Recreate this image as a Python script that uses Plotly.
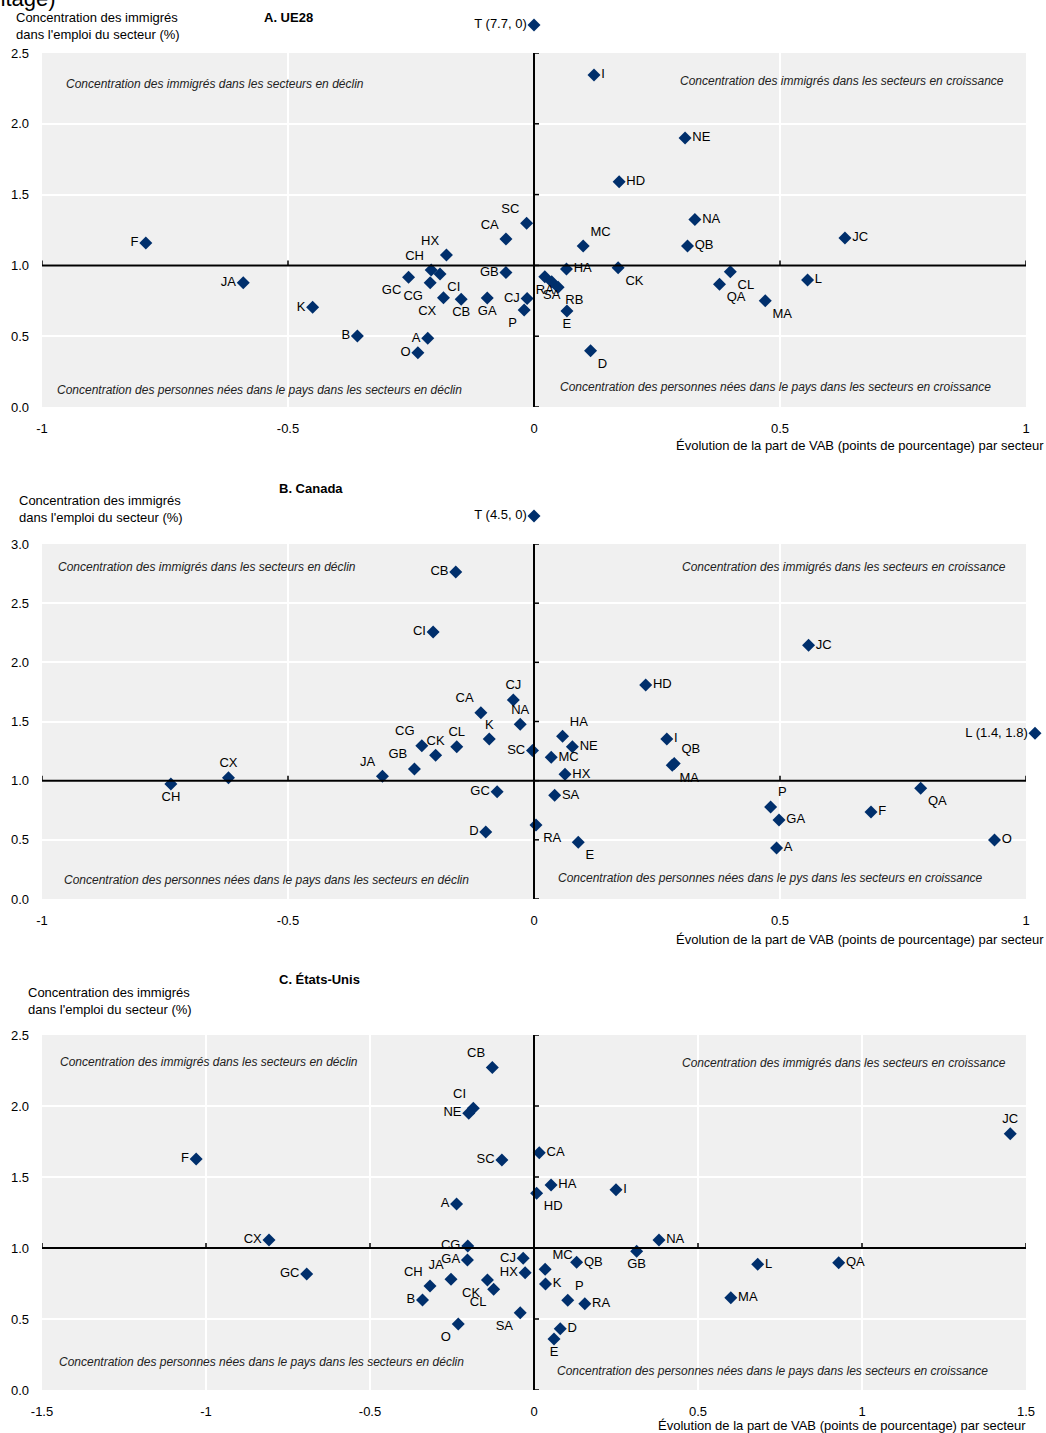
import plotly.graph_objects as go

W, H = 1046, 1433

# ---------------- data ----------------
# Each sector: change in gross value added share (pp) and immigrant concentration (%)
eu_codes = ["T", "I", "NE", "HD", "NA", "QB", "MC", "JC", "HA", "CK", "CL", "QA", "MA", "L",
            "E", "D", "RA", "SA", "RB", "SC", "CA", "HX", "CH", "CI", "GC", "CG", "GB", "CJ",
            "P", "GA", "CB", "CX", "JA", "K", "B", "A", "O", "F"]
eu_vab = [0.0, 0.122, 0.307, 0.173, 0.327, 0.312, 0.100, 0.632, 0.066, 0.171, 0.399, 0.377,
          0.470, 0.556, 0.067, 0.115, 0.022, 0.036, 0.049, -0.015, -0.057, -0.178, -0.209,
          -0.191, -0.255, -0.211, -0.057, -0.014, -0.020, -0.095, -0.148, -0.184, -0.591,
          -0.450, -0.359, -0.216, -0.236, -0.789]
eu_conc = [7.7, 2.345, 1.90, 1.59, 1.325, 1.137, 1.137, 1.193, 0.975, 0.984, 0.956, 0.866,
           0.751, 0.897, 0.678, 0.398, 0.920, 0.885, 0.845, 1.297, 1.186, 1.073, 0.967, 0.939,
           0.916, 0.878, 0.949, 0.767, 0.685, 0.770, 0.761, 0.772, 0.878, 0.704, 0.501, 0.485,
           0.384, 1.158]

ca_codes = ["T", "CB", "CI", "JC", "HD", "I", "QB", "MA", "HA", "NE", "MC", "HX", "SA", "RA",
            "E", "P", "GA", "A", "F", "QA", "O", "L", "CH", "CX", "JA", "GB", "CG", "CK", "CL",
            "CA", "K", "CJ", "NA", "SC", "GC", "D"]
ca_vab = [0.0, -0.159, -0.205, 0.558, 0.227, 0.270, 0.285, 0.281, 0.058, 0.078, 0.035, 0.063,
          0.042, 0.004, 0.090, 0.481, 0.498, 0.493, 0.685, 0.786, 0.936, 1.8, -0.738, -0.621,
          -0.308, -0.243, -0.228, -0.200, -0.157, -0.108, -0.091, -0.042, -0.028, -0.003,
          -0.075, -0.098]
ca_conc = [4.5, 2.764, 2.257, 2.144, 1.809, 1.352, 1.145, 1.130, 1.375, 1.287, 1.197, 1.054,
           0.876, 0.625, 0.479, 0.778, 0.668, 0.431, 0.735, 0.936, 0.499, 1.4, 0.972, 1.025,
           1.037, 1.099, 1.296, 1.214, 1.287, 1.575, 1.352, 1.682, 1.477, 1.254, 0.907, 0.566]

us_codes = ["CB", "CI", "NE", "SC", "CA", "HA", "HD", "A", "CX", "GC", "CG", "GA", "CJ", "HX",
            "JA", "CH", "CK", "CL", "B", "SA", "O", "MC", "K", "D", "E", "P", "RA", "QB", "GB",
            "NA", "I", "L", "QA", "MA", "JC", "F"]
us_vab = [-0.127, -0.185, -0.199, -0.098, 0.016, 0.052, 0.008, -0.236, -0.808, -0.693, -0.202,
          -0.203, -0.033, -0.027, -0.253, -0.317, -0.142, -0.123, -0.340, -0.042, -0.231, 0.034,
          0.035, 0.080, 0.061, 0.103, 0.155, 0.130, 0.313, 0.381, 0.250, 0.682, 0.929, 0.600,
          1.452, -1.030]
us_conc = [2.272, 1.984, 1.949, 1.620, 1.671, 1.444, 1.385, 1.310, 1.056, 0.817, 1.014, 0.915,
           0.927, 0.826, 0.780, 0.732, 0.775, 0.709, 0.634, 0.544, 0.465, 0.850, 0.746, 0.432,
           0.359, 0.632, 0.608, 0.899, 0.977, 1.056, 1.411, 0.885, 0.896, 0.650, 1.805, 1.627]

x_ticks_ab = [-1, -0.5, 0, 0.5, 1]
x_ticklabels_ab = ["-1", "-0.5", "0", "0.5", "1"]
x_ticks_c = [-1.5, -1, -0.5, 0, 0.5, 1, 1.5]
x_ticklabels_c = ["-1.5", "-1", "-0.5", "0", "0.5", "1", "1.5"]
y_ticks_25 = [0, 0.5, 1.0, 1.5, 2.0, 2.5]
y_ticks_30 = [0, 0.5, 1.0, 1.5, 2.0, 2.5, 3.0]

y_title = "Concentration des immigrés<br>dans l'emploi du secteur (%)"
x_title = "Évolution de la part de VAB (points de pourcentage) par secteur"
q_tl = "Concentration des immigrés dans les secteurs en déclin"
q_tr = "Concentration des immigrés dans les secteurs en croissance"
q_bl = "Concentration des personnes nées dans le pays dans les secteurs en déclin"
q_br = "Concentration des personnes nées dans le pays dans les secteurs en croissance"
q_br_ca = "Concentration des personnes nées dans le pys dans les secteurs en croissance"

# ---------------- label placement ----------------
eu_pos = {"T": "middle left", "I": "middle right", "NE": "middle right", "HD": "middle right",
          "NA": "middle right", "QB": "middle right", "MC": "top right", "JC": "middle right",
          "HA": "middle right", "CK": "bottom right", "CL": "bottom right", "QA": "bottom right",
          "MA": "bottom right", "L": "middle right", "E": "bottom center", "D": "bottom right",
          "RA": "bottom center", "SA": "bottom center", "RB": "bottom right", "SC": "top left",
          "CA": "top left", "HX": "top left", "CH": "top left", "CI": "bottom right",
          "GC": "bottom left", "CG": "bottom left", "GB": "middle left", "CJ": "middle left",
          "P": "bottom left", "GA": "bottom center", "CB": "bottom center", "CX": "bottom left",
          "JA": "middle left", "K": "middle left", "B": "middle left", "A": "middle left",
          "O": "middle left", "F": "middle left"}
ca_pos = {"T": "middle left", "CB": "middle left", "CI": "middle left", "JC": "middle right",
          "HD": "middle right", "I": "middle right", "QB": "top right", "MA": "bottom right",
          "HA": "top right", "NE": "middle right", "MC": "middle right", "HX": "middle right",
          "SA": "middle right", "RA": "bottom right", "E": "bottom right", "P": "top right",
          "GA": "middle right", "A": "middle right", "F": "middle right", "QA": "bottom right",
          "O": "middle right", "L": "middle left", "CH": "bottom center", "CX": "top center",
          "JA": "top left", "GB": "top left", "CG": "top left", "CK": "top center",
          "CL": "top center", "CA": "top left", "K": "top center", "CJ": "top center",
          "NA": "top center", "SC": "middle left", "GC": "middle left", "D": "middle left"}
us_pos = {"CB": "top left", "CI": "top left", "NE": "middle left", "SC": "middle left",
          "CA": "middle right", "HA": "middle right", "HD": "bottom right", "A": "middle left",
          "CX": "middle left", "GC": "middle left", "CG": "middle left", "GA": "middle left",
          "CJ": "middle left", "HX": "middle left", "JA": "top left", "CH": "top left",
          "CK": "bottom left", "CL": "bottom left", "B": "middle left", "SA": "bottom left",
          "O": "bottom left", "MC": "top right", "K": "middle right", "D": "middle right",
          "E": "bottom center", "P": "top right", "RA": "middle right", "QB": "middle right",
          "GB": "bottom center", "NA": "middle right", "I": "middle right", "L": "middle right",
          "QA": "middle right", "MA": "middle right", "JC": "top center", "F": "middle left"}

# ---------------- layout geometry (pixels) ----------------
PLOT_L, PLOT_R = 42, 1026
panels = [
    dict(codes=eu_codes, vab=eu_vab, conc=eu_conc, pos=eu_pos, top=53, bottom=407,
         xr=(-1, 1), xt=x_ticks_ab, xl=x_ticklabels_ab, yr=(0, 2.5), yt=y_ticks_25,
         title="A. UE28", title_xy=(262, 18), ytitle_xy=(14, 26),
         xtitle_xy=(1046, 445), quads=[(q_tl, 64, 84, "left"), (q_tr, 1006, 81, "right"),
                                       (q_bl, 55, 390, "left"), (q_br, 993, 387, "right")]),
    dict(codes=ca_codes, vab=ca_vab, conc=ca_conc, pos=ca_pos, top=544, bottom=899,
         xr=(-1, 1), xt=x_ticks_ab, xl=x_ticklabels_ab, yr=(0, 3.0), yt=y_ticks_30,
         title="B. Canada", title_xy=(277, 488), ytitle_xy=(17, 509),
         xtitle_xy=(1046, 940), quads=[(q_tl, 56, 567, "left"), (q_tr, 1008, 567, "right"),
                                       (q_bl, 62, 880, "left"), (q_br_ca, 985, 878, "right")]),
    dict(codes=us_codes, vab=us_vab, conc=us_conc, pos=us_pos, top=1035, bottom=1390,
         xr=(-1.5, 1.5), xt=x_ticks_c, xl=x_ticklabels_c, yr=(0, 2.5), yt=y_ticks_25,
         title="C. États-Unis", title_xy=(277, 979), ytitle_xy=(26, 1001),
         xtitle_xy=(1028, 1425), quads=[(q_tl, 58, 1062, "left"), (q_tr, 1008, 1063, "right"),
                                        (q_bl, 57, 1362, "left"), (q_br, 990, 1371, "right")]),
]

FONT = "Liberation Sans, Arial, sans-serif"
NAVY = "#002F6C"
BG = "#F0F0F0"
PARK_PX = 28   # out-of-range sectors are parked this far beyond the frame
STRIP_PX = 45  # depth of the strip that holds them


def px_x(x):
    return x / W


def px_y(y):
    return 1 - y / H


fig = go.Figure()
shapes, annotations = [], []
layout_axes = {}
axis_no = [3]  # three main subplots use axis numbers 1..3


def marker_trace(xs, ys, texts, tpos, xa, ya):
    return go.Scatter(
        x=xs, y=ys, text=texts, textposition=tpos, mode="markers+text",
        xaxis=xa, yaxis=ya, cliponaxis=False, showlegend=False, hoverinfo="skip",
        marker=dict(symbol="diamond", size=10, color=NAVY, line=dict(width=0)),
        textfont=dict(family=FONT, size=13, color="#000000"),
    )


def add_strip(xdom, xrng, ydom, yrng):
    axis_no[0] += 1
    k = str(axis_no[0])
    layout_axes["xaxis" + k] = dict(domain=xdom, range=xrng, anchor="y" + k, visible=False,
                                    fixedrange=True)
    layout_axes["yaxis" + k] = dict(domain=ydom, range=yrng, anchor="x" + k, visible=False,
                                    fixedrange=True)
    return "x" + k, "y" + k


for i, p in enumerate(panels):
    n = "" if i == 0 else str(i + 1)
    xa, ya = "x" + n, "y" + n
    x0, x1 = p["xr"]
    y0, y1 = p["yr"]
    ppu_x = (PLOT_R - PLOT_L) / (x1 - x0)
    ppu_y = (p["bottom"] - p["top"]) / (y1 - y0)

    inside = ([], [], [], [])
    above = ([], [], [], [])
    right = ([], [], [], [])
    for code, v, c in zip(p["codes"], p["vab"], p["conc"]):
        if c > y1:
            bucket, label = above, f"{code} ({c:g}, {v:g})"
            xd, yd = v, y1 + PARK_PX / ppu_y
        elif v > x1:
            bucket, label = right, f"{code} ({c:g}, {v:g})"
            xd, yd = x1 + 9 / ppu_x, c
        else:
            bucket, label = inside, code
            xd, yd = v, c
        bucket[0].append(xd)
        bucket[1].append(yd)
        bucket[2].append(label)
        bucket[3].append(p["pos"][code])

    fig.add_trace(marker_trace(*inside, xa, ya))

    xdom = [px_x(PLOT_L), px_x(PLOT_R)]
    ydom = [px_y(p["bottom"]), px_y(p["top"])]
    if above[0]:
        sx, sy = add_strip(xdom, [x0, x1], [px_y(p["top"] - 3), px_y(p["top"] - STRIP_PX)],
                           [y1 + 3 / ppu_y, y1 + STRIP_PX / ppu_y])
        fig.add_trace(marker_trace(*above, sx, sy))
    if right[0]:
        sx, sy = add_strip([px_x(PLOT_R + 3), 1.0], [x1 + 3 / ppu_x, x1 + (W - PLOT_R) / ppu_x],
                           ydom, [y0, y1])
        fig.add_trace(marker_trace(*right, sx, sy))

    layout_axes["xaxis" + n] = dict(
        domain=xdom, range=[x0, x1], anchor=ya, tickvals=p["xt"], ticktext=p["xl"],
        showgrid=True, gridcolor="white", gridwidth=2, zeroline=False, showline=False,
        ticks="", ticklabelstandoff=12, fixedrange=True,
        tickfont=dict(family=FONT, size=13, color="#000000"))
    layout_axes["yaxis" + n] = dict(
        domain=ydom, range=[y0, y1], anchor=xa, tickvals=p["yt"],
        ticktext=[f"{t:.1f}" for t in p["yt"]], showgrid=True, gridcolor="white",
        gridwidth=2, zeroline=False, showline=False, ticks="", ticklabelstandoff=12,
        fixedrange=True, tickfont=dict(family=FONT, size=13, color="#000000"))

    # grey frame, below the grid lines
    shapes.append(dict(type="rect", xref=xa + " domain", yref=ya + " domain", x0=0, x1=1,
                       y0=0, y1=1, fillcolor=BG, line=dict(width=0), layer="below"))
    # crossing axes: vertical at VAB = 0, horizontal at concentration = 1
    shapes.append(dict(type="line", xref=xa, yref=ya, x0=0, x1=0, y0=y0, y1=y1,
                       line=dict(color="black", width=2), layer="above"))
    shapes.append(dict(type="line", xref=xa, yref=ya, x0=x0, x1=x1, y0=1, y1=1,
                       line=dict(color="black", width=2), layer="above"))
    for t in p["xt"]:
        shapes.append(dict(type="line", xref=xa, yref=ya, x0=t, x1=t, ysizemode="pixel",
                           yanchor=1, y0=0, y1=5, line=dict(color="black", width=1.5),
                           layer="above"))
    for t in p["yt"]:
        shapes.append(dict(type="line", xref=xa, yref=ya, y0=t, y1=t, xsizemode="pixel",
                           xanchor=0, x0=0, x1=5, line=dict(color="black", width=1.5),
                           layer="above"))

    tx, ty = p["title_xy"]
    annotations.append(dict(text=f"<b>{p['title']}</b>", xref="paper", yref="paper",
                            x=px_x(tx), y=px_y(ty), xanchor="left", yanchor="middle",
                            showarrow=False, font=dict(family=FONT, size=13, color="#000000")))
    yx, yy = p["ytitle_xy"]
    annotations.append(dict(text=y_title, xref="paper", yref="paper", x=px_x(yx), y=px_y(yy),
                            xanchor="left", yanchor="middle", align="left", showarrow=False,
                            font=dict(family=FONT, size=13, color="#000000")))
    xx, xy = p["xtitle_xy"]
    annotations.append(dict(text=x_title, xref="paper", yref="paper", x=px_x(xx), y=px_y(xy),
                            xanchor="right", yanchor="middle", showarrow=False,
                            font=dict(family=FONT, size=13, color="#000000")))
    for txt, qx, qy, anc in p["quads"]:
        annotations.append(dict(text=f"<i>{txt}</i>", xref="paper", yref="paper",
                                x=px_x(qx), y=px_y(qy), xanchor=anc, yanchor="middle",
                                showarrow=False,
                                font=dict(family=FONT, size=12, color="#222222")))

# tail of the figure heading above the frame
annotations.append(dict(text="pourcentage)", xref="paper", yref="paper", x=px_x(58),
                        y=px_y(13), xanchor="right", yanchor="bottom", showarrow=False,
                        font=dict(family=FONT, size=22, color="#000000")))

fig.update_layout(
    width=W, height=H, margin=dict(l=0, r=0, t=0, b=0, autoexpand=False),
    paper_bgcolor="white", plot_bgcolor="rgba(0,0,0,0)",
    shapes=shapes, annotations=annotations, **layout_axes,
)

fig.write_html("out.html")
